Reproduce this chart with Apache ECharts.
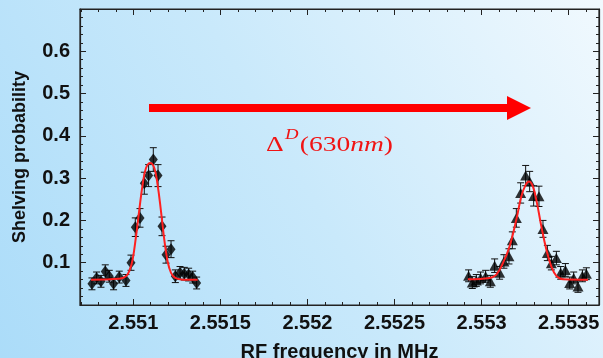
<!DOCTYPE html>
<html>
<head>
<meta charset="utf-8">
<script src="https://cdn.jsdelivr.net/npm/echarts@6/dist/echarts.min.js"></script>
<style>
  html, body { margin: 0; padding: 0; }
  #chart { width: 603px; height: 358px; }
</style>
</head>
<body>
<div id="chart"></div>
<script>
// measured points, first resonance (diamonds)
const leftFreq = [2.5507626, 2.5507891, 2.5508144, 2.5508391, 2.5508621, 2.5508868, 2.5509195, 2.550958, 2.5509868, 2.5510115, 2.5510385, 2.5510632, 2.5510879, 2.5511149, 2.551142, 2.5511649, 2.5511879, 2.5512167, 2.5512414, 2.5512684, 2.5512931, 2.5513178, 2.5513408, 2.5513638];
const leftProb = [0.050, 0.064, 0.056, 0.079, 0.068, 0.050, 0.066, 0.058, 0.100, 0.184, 0.206, 0.288, 0.306, 0.344, 0.306, 0.186, 0.119, 0.132, 0.068, 0.076, 0.074, 0.072, 0.066, 0.052];
const leftErr = [0.014, 0.014, 0.014, 0.016, 0.014, 0.014, 0.014, 0.014, 0.018, 0.022, 0.022, 0.026, 0.026, 0.028, 0.026, 0.022, 0.020, 0.020, 0.015, 0.015, 0.015, 0.015, 0.014, 0.014];

// measured points, second resonance (triangles)
const rightFreq = [2.5529252, 2.5529465, 2.5529695, 2.5529942, 2.5530229, 2.5530499, 2.5530747, 2.5531034, 2.5531281, 2.5531569, 2.5531764, 2.5531994, 2.5532241, 2.5532528, 2.5532758, 2.5532988, 2.5533293, 2.5533523, 2.5533775, 2.5534005, 2.5534292, 2.5534539, 2.553481, 2.5535057, 2.5535287, 2.5535534, 2.5535787, 2.5536016];
const rightProb = [0.069, 0.053, 0.058, 0.064, 0.068, 0.056, 0.093, 0.076, 0.103, 0.115, 0.153, 0.206, 0.265, 0.306, 0.292, 0.258, 0.257, 0.180, 0.123, 0.099, 0.111, 0.076, 0.083, 0.052, 0.064, 0.044, 0.069, 0.074];
const rightErr = [0.014, 0.014, 0.014, 0.014, 0.014, 0.014, 0.016, 0.015, 0.016, 0.018, 0.020, 0.022, 0.024, 0.024, 0.024, 0.024, 0.024, 0.020, 0.018, 0.016, 0.016, 0.015, 0.015, 0.014, 0.014, 0.014, 0.014, 0.014];

// fitted curves
const leftFitFreq = [2.5507569, 2.5509195, 2.550958, 2.550977, 2.550996, 2.5510155, 2.5510345, 2.5510534, 2.551073, 2.5510977, 2.5511207, 2.5511397, 2.5511592, 2.5511782, 2.5511971, 2.5512167, 2.5512414, 2.5512833, 2.5513695];
const leftFitProb = [0.060, 0.062, 0.068, 0.080, 0.107, 0.162, 0.225, 0.284, 0.324, 0.336, 0.324, 0.284, 0.221, 0.154, 0.103, 0.076, 0.064, 0.060, 0.060];
const rightFitFreq = [2.5529212, 2.5530459, 2.5530844, 2.5531224, 2.5531609, 2.5531994, 2.5532281, 2.5532528, 2.5532718, 2.5532948, 2.5533178, 2.553343, 2.5533718, 2.5534005, 2.5534292, 2.5534672, 2.5536109];
const rightFitProb = [0.061, 0.064, 0.072, 0.099, 0.139, 0.202, 0.257, 0.284, 0.292, 0.280, 0.241, 0.186, 0.131, 0.091, 0.069, 0.061, 0.060];

const yTickLabels = ['0.1', '0.2', '0.3', '0.4', '0.5', '0.6'];

function zip(a, b) {
    return a.map(function (v, i) { return [v, b[i]]; });
}

function errData(f, p, e) {
    return f.map(function (v, i) { return [v, p[i] - e[i], p[i] + e[i]]; });
}

//误差棒
function renderErr(params, api) {
    var lo = api.coord([api.value(0), api.value(1)]);
    var hi = api.coord([api.value(0), api.value(2)]);
    var w = 3.5;
    var style = { stroke: '#111', lineWidth: 1 };
    return {
        type: 'group',
        children: [
            { type: 'line', shape: { x1: lo[0], y1: lo[1], x2: hi[0], y2: hi[1] }, style: style },
            { type: 'line', shape: { x1: lo[0] - w, y1: lo[1], x2: lo[0] + w, y2: lo[1] }, style: style },
            { type: 'line', shape: { x1: hi[0] - w, y1: hi[1], x2: hi[0] + w, y2: hi[1] }, style: style }
        ]
    };
}

var dom = document.getElementById('chart');
var myChart = echarts.init(dom, null, { renderer: 'canvas' });

var tickLabelStyle = {
    color: '#111',
    fontFamily: 'Liberation Sans, Arial',
    fontWeight: 'bold',
    fontSize: 20
};

var frameLine = { show: true, onZero: false, lineStyle: { color: '#222', width: 1.2 } };
var frameTick = { show: true, inside: true, length: 6, lineStyle: { color: '#222' } };
var frameMinor = { show: true, splitNumber: 5, length: 3, lineStyle: { color: '#222' } };

var xMin = 2.550694, xMax = 2.553674;

var option = {
    animation: false,
    backgroundColor: new echarts.graphic.LinearGradient(0, 1, 1, 0, [
        { offset: 0, color: '#abdcf9' },
        { offset: 0.5, color: '#c9e9fb' },
        { offset: 1, color: '#f1f9fe' }
    ]),
    grid: {
        left: 80, right: 4, top: 9, bottom: 53,
        outerBoundsMode: 'none',
        show: true,
        borderColor: '#222',
        borderWidth: 1.2,
        backgroundColor: 'transparent'
    },
    xAxis: [
        {
            type: 'value',
            min: xMin,
            max: xMax,
            splitNumber: 6,
            position: 'bottom',
            name: 'RF frequency in MHz',
            nameLocation: 'middle',
            nameGap: 37,
            nameTextStyle: { color: '#111', fontFamily: 'Liberation Sans, Arial', fontWeight: 'bold', fontSize: 20 },
            axisLine: frameLine,
            axisTick: frameTick,
            minorTick: frameMinor,
            splitLine: { show: false },
            axisLabel: Object.assign({
                margin: 8,
                formatter: function (v) { return String(+v.toFixed(4)); }
            }, tickLabelStyle)
        },
        {
            type: 'value',
            min: xMin,
            max: xMax,
            splitNumber: 6,
            position: 'top',
            axisLine: frameLine,
            axisTick: frameTick,
            minorTick: frameMinor,
            splitLine: { show: false },
            axisLabel: { show: false }
        }
    ],
    yAxis: [
        {
            type: 'value',
            min: 0,
            max: 0.7,
            interval: 0.1,
            name: 'Shelving probability',
            nameLocation: 'middle',
            nameGap: 51,
            nameTextStyle: { color: '#111', fontFamily: 'Liberation Sans, Arial', fontWeight: 'bold', fontSize: 18 },
            axisLine: frameLine,
            axisTick: frameTick,
            minorTick: frameMinor,
            splitLine: { show: false },
            axisLabel: Object.assign({
                margin: 10,
                formatter: function (v) {
                    var s = String(+v.toFixed(1));
                    return yTickLabels.indexOf(s) >= 0 ? s : '';
                }
            }, tickLabelStyle)
        },
        {
            type: 'value',
            min: 0,
            max: 0.7,
            interval: 0.1,
            position: 'right',
            axisLine: frameLine,
            axisTick: frameTick,
            minorTick: frameMinor,
            splitLine: { show: false },
            axisLabel: { show: false }
        }
    ],
    graphic: [
        {
            type: 'rect',
            shape: { x: 149, y: 104, width: 360, height: 8 },
            style: { fill: '#ff0000' }
        },
        {
            type: 'polygon',
            shape: { points: [[507, 96], [531, 108], [507, 120]] },
            style: { fill: '#ff0000' }
        },
        {
            type: 'text',
            x: 266,
            y: 142,
            scaleX: 1.25,
            style: {
                x: 0,
                y: 0,
                align: 'left',
                verticalAlign: 'middle',
                text: '{a|Δ}{s|D}{a|(630}{i|nm}{a|)}',
                rich: {
                    a: { fontFamily: 'Liberation Serif', fontSize: 22, fill: '#f01414', lineHeight: 28, verticalAlign: 'bottom' },
                    i: { fontFamily: 'Liberation Serif', fontStyle: 'italic', fontSize: 22, fill: '#f01414', lineHeight: 28, verticalAlign: 'bottom' },
                    s: { fontFamily: 'Liberation Serif', fontStyle: 'italic', fontSize: 15, fill: '#f01414', lineHeight: 28, verticalAlign: 'top', padding: [0, 1, 0, 1] }
                }
            }
        }
    ],
    series: [
        {
            type: 'custom',
            renderItem: renderErr,
            encode: { x: 0, y: [1, 2] },
            data: errData(leftFreq, leftProb, leftErr),
            z: 2
        },
        {
            type: 'custom',
            renderItem: renderErr,
            encode: { x: 0, y: [1, 2] },
            data: errData(rightFreq, rightProb, rightErr),
            z: 2
        },
        {
            type: 'scatter',
            symbol: 'diamond',
            symbolSize: [9, 12],
            itemStyle: { color: '#000' },
            data: zip(leftFreq, leftProb),
            z: 3
        },
        {
            type: 'scatter',
            symbol: 'triangle',
            symbolSize: [11, 10],
            itemStyle: { color: '#000' },
            data: zip(rightFreq, rightProb),
            z: 3
        },
        {
            type: 'line',
            smooth: 0.4,
            showSymbol: false,
            lineStyle: { color: '#ff2020', width: 2 },
            data: zip(leftFitFreq, leftFitProb),
            z: 4
        },
        {
            // same scales, bound to the mirrored top/right axes
            type: 'line',
            xAxisIndex: 1,
            yAxisIndex: 1,
            smooth: 0.4,
            showSymbol: false,
            lineStyle: { color: '#ff2020', width: 2 },
            data: zip(rightFitFreq, rightFitProb),
            z: 4
        }
    ]
};

myChart.setOption(option);
window.addEventListener('resize', myChart.resize);
</script>
</body>
</html>
